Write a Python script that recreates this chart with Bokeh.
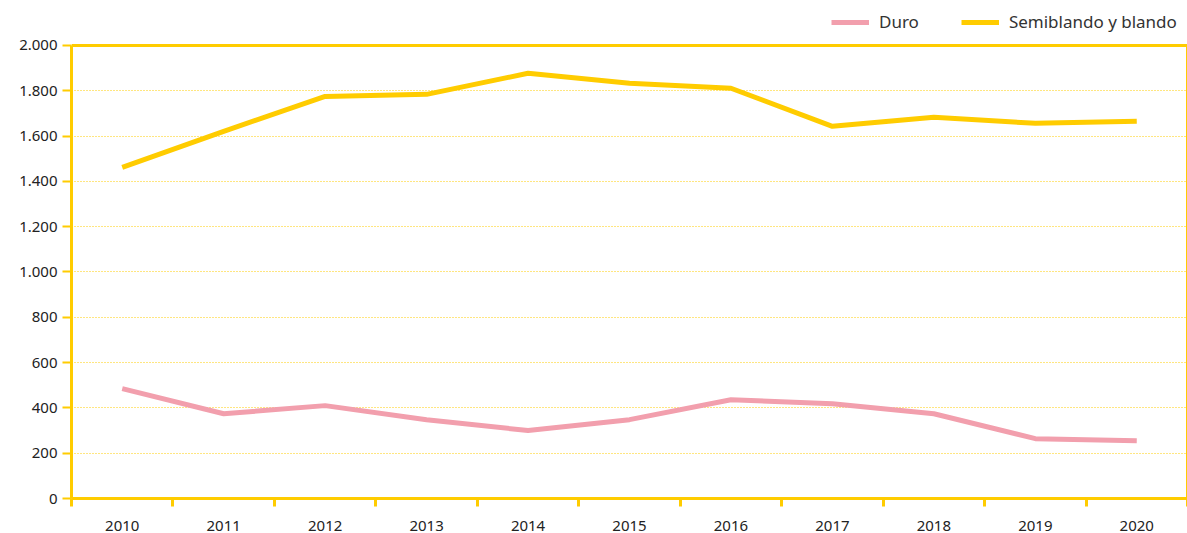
from bokeh.plotting import figure
from bokeh.models import FixedTicker, Legend, LegendItem, Range1d, LinearAxis, Span
from bokeh.embed import file_html
from bokeh.resources import INLINE

years = [2010, 2011, 2012, 2013, 2014, 2015, 2016, 2017, 2018, 2019, 2020]
duro = [485, 374, 410, 348, 300, 348, 436, 418, 374, 264, 255]
semiblando = [1462, 1621, 1775, 1784, 1877, 1833, 1811, 1643, 1683, 1656, 1665]
y_ticks = [0, 200, 400, 600, 800, 1000, 1200, 1400, 1600, 1800, 2000]
series_names = ["Duro", "Semiblando y blando"]

YELLOW = "#FFCC00"
PINK = "#F29FAD"
FONT = "Noto Sans"

Y_MAX = 2000
# frame extends above the data area to leave room for the legend
FRAME_TOP, DATA_TOP, FRAME_BOTTOM = 5, 45, 499
y_end = Y_MAX * (FRAME_BOTTOM - FRAME_TOP) / (FRAME_BOTTOM - DATA_TOP)

p = figure(width=1187, height=533, output_backend="svg", toolbar_location=None,
           x_range=Range1d(years[0] - 0.5, years[-1] + 0.5), y_range=Range1d(0, y_end),
           min_border_left=71, min_border_right=0, min_border_top=FRAME_TOP, min_border_bottom=34)

p.outline_line_color = None

r1 = p.line(years, duro, line_color=PINK, line_width=5)
r2 = p.line(years, semiblando, line_color=YELLOW, line_width=5)

boundaries = [y - 0.5 for y in years] + [years[-1] + 0.5]
p.xaxis.ticker = FixedTicker(ticks=years, minor_ticks=boundaries)
p.xaxis.major_tick_out = 0
p.xaxis.major_tick_in = 0
p.xaxis.minor_tick_out = 8
p.xaxis.minor_tick_in = 0
p.xaxis.minor_tick_line_color = YELLOW
p.xaxis.minor_tick_line_width = 3
p.xaxis.axis_line_color = YELLOW
p.xaxis.axis_line_width = 3
p.xaxis.major_label_standoff = 14

p.yaxis.ticker = FixedTicker(ticks=y_ticks)
p.yaxis.bounds = (0, Y_MAX)
p.yaxis.major_label_overrides = {v: f"{v:,}".replace(",", ".") for v in y_ticks}
p.yaxis.major_tick_out = 9
p.yaxis.major_tick_in = 0
p.yaxis.major_tick_line_color = YELLOW
p.yaxis.major_tick_line_width = 2
p.yaxis.minor_tick_line_color = None
p.yaxis.axis_line_color = YELLOW
p.yaxis.axis_line_width = 3
p.yaxis.major_label_standoff = 5

for ax in (p.xaxis, p.yaxis):
    ax.major_label_text_font = FONT
    ax.major_label_text_font_size = "15px"
    ax.major_label_text_color = "#222222"

right_axis = LinearAxis(ticker=FixedTicker(ticks=[]), bounds=(0, Y_MAX),
                        axis_line_color=YELLOW, axis_line_width=3,
                        major_tick_line_color=None, minor_tick_line_color=None,
                        major_tick_out=0, major_tick_in=0, minor_tick_out=0, minor_tick_in=0,
                        major_label_standoff=0, major_label_text_font_size="0px")
p.add_layout(right_axis, "right")

p.add_layout(Span(location=Y_MAX, dimension="width", line_color=YELLOW, line_width=3))

p.xgrid.grid_line_color = None
p.ygrid.ticker = FixedTicker(ticks=y_ticks[:-1])
p.ygrid.grid_line_color = YELLOW
p.ygrid.grid_line_width = 1
p.ygrid.grid_line_dash = "1 2"
p.ygrid.grid_line_alpha = 1

legend = Legend(items=[LegendItem(label=series_names[0], renderers=[r1]),
                       LegendItem(label=series_names[1], renderers=[r2])],
                orientation="horizontal", location=(760, 465),
                label_text_font=FONT, label_text_font_size="17px", label_text_color="#333333",
                glyph_width=38, glyph_height=20, spacing=42, padding=2, margin=0,
                border_line_color=None, background_fill_alpha=0, label_standoff=10)
p.add_layout(legend, "center")

open("out.html", "w").write(file_html(p, INLINE))
